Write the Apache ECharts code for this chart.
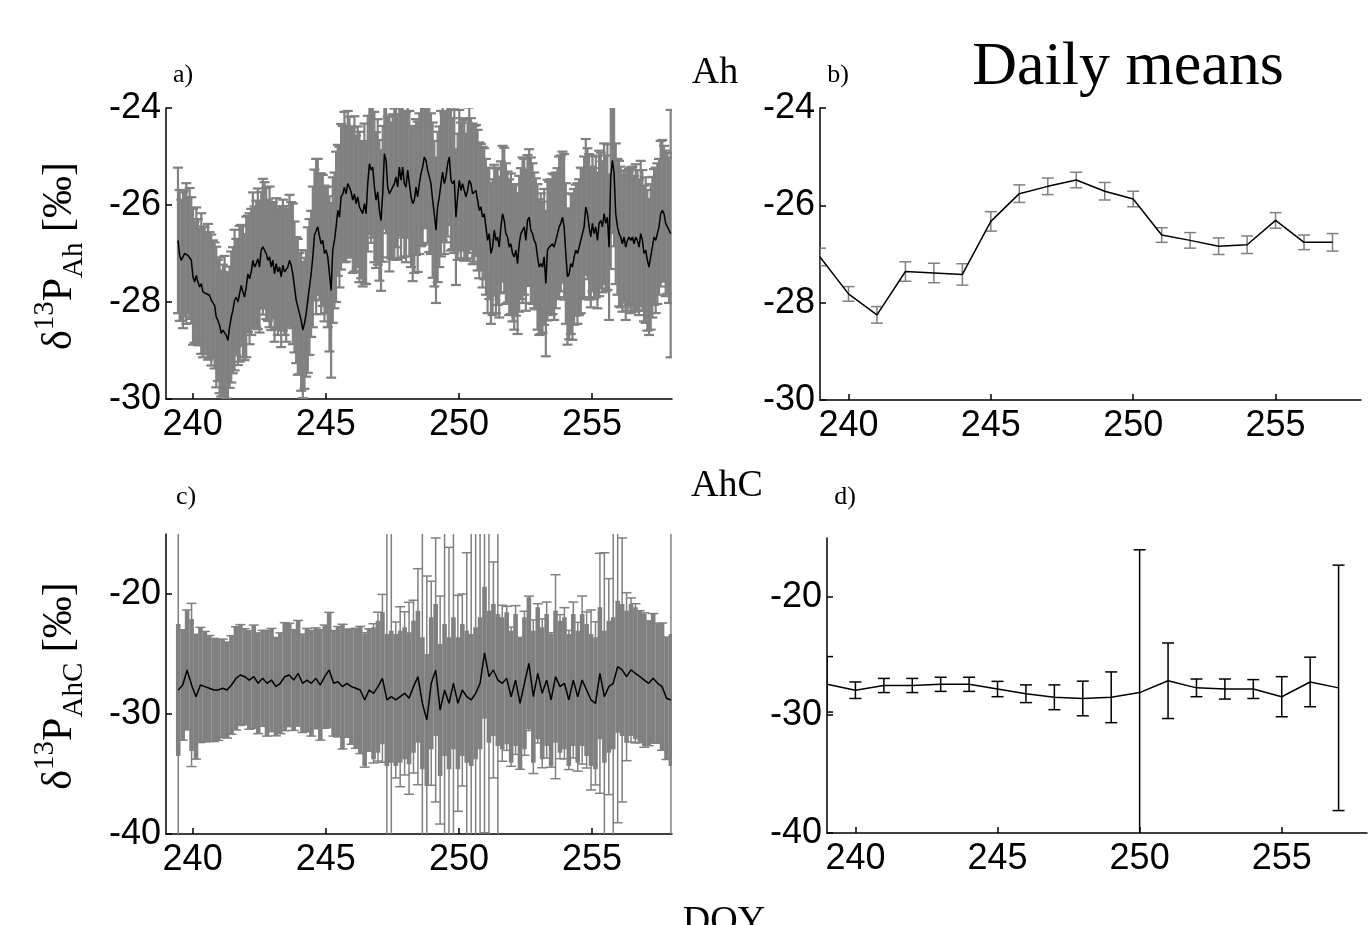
<!DOCTYPE html>
<html><head><meta charset="utf-8">
<script src="https://cdn.jsdelivr.net/npm/echarts@6/dist/echarts.min.js"></script>
<style>html,body{margin:0;padding:0;background:#fff}#c{width:1370px;height:925px}</style>
</head><body><div id="c"></div>
<script>
// ---------- data ----------
const ahStart = 239.45, ahStep = 0.0625;
const ahMean = [
-26.73,-27.04,-27.14,-27.14,-27.00,-27.00,-27.04,-27.00,-27.14,-27.48,
-27.59,-27.45,-27.59,-27.69,-27.62,-27.79,-27.76,-27.83,-27.79,-27.86,
-27.96,-27.93,-28.07,-28.31,-28.38,-28.48,-28.65,-28.58,-28.55,-28.69,
-28.79,-28.52,-28.31,-28.17,-27.96,-27.90,-28.00,-27.83,-27.66,-27.79,
-27.90,-27.69,-27.42,-27.52,-27.38,-27.14,-27.28,-27.21,-27.11,-27.28,
-26.93,-26.86,-26.83,-27.00,-27.14,-27.07,-27.28,-27.14,-27.42,-27.21,
-27.38,-27.28,-27.48,-27.24,-27.38,-27.42,-27.28,-27.14,-27.24,-27.42,
-27.69,-27.96,-28.10,-28.24,-28.38,-28.58,-28.44,-28.24,-27.96,-27.69,
-27.42,-27.07,-26.62,-26.65,-26.45,-26.65,-26.80,-26.73,-27.00,-26.93,
-27.07,-27.42,-27.76,-26.93,-26.73,-26.45,-26.11,-26.25,-25.83,-25.77,
-25.63,-25.77,-25.56,
-25.63,-25.73,-25.90,-25.77,-25.97,-25.83,-26.04,-26.11,-26.18,-25.97,
-26.18,-25.56,-25.15,-25.28,-25.22,-25.63,-25.90,-25.73,-26.11,-26.32,
-25.77,-24.94,-25.08,-25.63,-25.77,-25.70,-25.63,-25.56,-25.42,-25.63,
-25.22,-25.49,-25.22,-25.56,-25.63,-25.28,-25.56,-25.83,-25.97,-25.90,
-25.63,-25.83,-25.56,-25.35,-25.22,-25.01,-25.08,-25.28,-25.42,-25.56,
-25.90,-26.18,-26.52,-26.04,-25.83,-25.56,-25.32,-25.56,-25.42,-25.15,
-25.01,-25.49,-25.56,-25.49,-26.25,-25.83,-25.49,-25.70,-25.56,-25.70,
-25.83,-25.70,-25.49,-25.56,-25.77,-25.77,-25.70,-25.90,-26.11,-26.04,
-26.25,-26.18,-26.45,-26.73,-26.59,-27.00,-26.87,-26.52,-26.73,-26.66,
-26.87,-26.45,-26.18,-26.32,-26.59,-26.66,-26.87,-26.80,-27.00,-27.07,
-26.93,-27.21,-26.80,-26.59,-26.52,-26.45,-26.73,-26.32,-26.25,-26.52,
-26.59,-26.73,-26.80,-27.07,-27.28,-27.21,-27.28,-27.07,-27.62,-26.93,
-26.87,-26.87,-26.80,-26.87,-26.73,-26.59,-26.45,-26.38,-26.25,-26.45,
-27.00,-27.48,-27.42,-27.21,-27.28,-27.07,-26.93,-27.00,-26.87,-26.73,
-26.59,-26.45,-26.04,-26.18,-26.45,-26.66,-26.38,-26.59,-26.45,-26.73,
-26.38,-26.32,-26.45,-26.18,-26.38,-26.25,-26.87,-25.42,-25.08,-25.35,
-26.18,-26.45,-26.59,-26.66,-26.80,-26.66,-26.87,-26.73,-26.66,-26.73,
-26.66,-26.80,-26.66,-26.73,-26.87,-26.59,-26.73,-27.00,-26.93,-27.14,
-27.28,-27.07,-26.87,-26.66,-26.73,-26.59,-26.45,-26.18,-26.11,-26.18,
-26.38,-26.38,-26.52,-26.59
];
const ahErr = [
1.50,1.35,1.25,1.40,1.30,1.45,1.20,1.35,1.30,1.40,
1.25,1.40,1.30,1.20,1.45,1.35,1.30,1.25,1.40,1.30,
1.35,1.20,1.30,1.45,1.25,1.40,1.30,1.35,1.50,1.30,
1.40,1.25,1.35,1.30,1.45,1.20,1.30,1.40,1.25,1.35,
1.30,1.45,1.20,1.35,1.30,1.40,1.25,1.30,1.45,1.35,
1.20,1.40,1.30,1.35,1.25,1.45,1.30,1.20,1.40,1.35,
1.30,1.25,1.45,1.35,1.30,1.40,1.20,1.35,1.30,1.45,
1.35,1.30,1.40,1.25,1.45,1.40,1.35,1.30,1.50,1.40,
1.30,1.45,1.35,1.60,1.40,1.30,1.45,1.35,1.40,1.30,
1.45,1.60,1.80,1.50,1.40,1.55,1.35,1.45,1.50,1.40,
1.55,1.40,1.50,1.45,1.35,1.50,1.60,1.40,1.45,1.55,
1.40,1.50,1.65,1.45,1.40,1.45,1.50,1.45,1.55,1.40,
1.50,1.45,1.45,1.40,1.55,1.50,1.45,1.60,1.40,1.50,
1.55,1.45,1.50,1.40,1.60,1.45,1.50,1.55,1.40,1.50,
1.45,1.60,1.50,1.40,1.55,1.45,1.50,1.60,1.45,1.40,
1.50,1.55,1.45,1.60,1.50,1.50,1.55,1.45,1.50,1.40,
1.45,1.35,1.50,1.40,1.45,1.35,1.50,1.40,1.30,1.45,
1.40,1.35,1.45,1.30,1.40,1.50,1.35,1.45,1.40,1.35,
1.45,1.40,1.30,1.45,1.35,1.40,1.50,1.35,1.45,1.40,
1.35,1.50,1.40,1.45,1.35,1.40,1.50,1.45,1.35,1.40,
1.45,1.40,1.50,1.35,1.45,1.40,1.35,1.50,1.40,1.45,
1.35,1.40,1.50,1.45,1.40,1.35,1.50,1.40,1.45,1.35,
1.40,1.50,1.45,1.35,1.40,1.45,1.50,1.40,1.35,1.45,
1.40,1.35,1.50,1.45,1.40,1.35,1.45,1.50,1.40,1.35,
1.45,1.40,1.50,1.35,1.45,1.40,1.35,1.50,1.45,1.40,
1.35,1.45,1.40,1.50,1.40,1.35,1.45,1.40,1.50,1.50,
1.90,1.50,1.50,1.45,1.40,1.50,1.45,1.40,1.35,1.50,
1.45,1.40,1.50,1.45,1.40,1.50,1.45,1.40,1.50,1.45,
1.40,1.50,1.45,1.40,1.50,1.45,1.40,1.50,1.45,1.40,
1.50,1.45,1.40,1.50,1.45,1.50,2.55
];
const ahcStart = 239.46, ahcStep = 1/6;
const ahcMean = [
-28.00,-27.58,-26.33,-27.58,-28.56,-27.58,-27.72,-27.86,-28.00,-28.00,
-27.86,-28.00,-27.58,-27.03,-26.75,-26.89,-27.17,-26.89,-27.44,-27.03,
-27.44,-27.17,-27.72,-27.44,-26.89,-26.75,-27.17,-26.61,-27.44,-27.17,
-27.44,-27.03,-27.58,-26.89,-26.33,-27.44,-27.31,-27.72,-27.44,-27.72,
-27.86,-28.00,-28.83,-28.00,-28.28,-27.72,-27.03,-28.83,-28.56,-28.83,
-28.56,-28.28,-28.69,-27.72,-26.89,-29.11,-30.50,-27.44,-26.33,-29.67,
-28.00,-29.11,-27.44,-29.11,-28.00,-28.56,-28.83,-28.28,-27.44,-24.90,
-26.89,-26.33,-27.17,-27.44,-27.03,-28.56,-27.17,-29.11,-27.44,-25.78,
-28.56,-26.61,-28.28,-27.17,-28.83,-26.89,-27.72,-27.44,-28.83,-27.17,
-28.56,-27.17,-28.00,-28.83,-29.11,-26.61,-28.56,-27.72,-27.44,-26.06,
-26.33,-26.89,-26.33,-26.61,-26.89,-27.17,-27.44,-27.03,-27.44,-27.72,
-28.69,-28.83
];
const ahcErr = [
20.0,4.6,5.0,6.8,5.2,4.8,4.6,4.4,4.3,4.2,
4.1,4.0,4.1,4.3,4.2,4.0,4.1,4.3,4.2,4.0,
4.4,4.3,4.1,4.2,4.5,4.3,4.2,4.4,4.1,4.3,
4.4,4.2,4.6,4.3,4.8,4.4,4.6,5.2,4.5,4.8,
5.0,5.3,5.6,5.1,5.8,6.2,7.0,15.0,14.0,6.5,
7.5,6.8,8.0,7.2,9.0,15.0,12.0,8.5,11.0,9.5,
15.0,13.0,15.0,9.0,8.0,12.0,18.0,16.0,18.0,15.0,
18.0,9.0,15.0,6.5,6.0,5.8,6.2,5.5,6.0,5.6,
6.4,5.8,6.2,6.5,5.6,8.5,6.0,6.3,5.8,6.5,
6.2,7.0,6.5,7.5,6.8,10.0,12.0,9.0,14.0,13.0,
11.0,7.0,6.0,5.8,5.5,5.6,5.2,5.4,5.0,5.3,
5.1,20.0
];
const dailyDays = [239,240,241,242,243,244,245,246,247,248,249,250,251,252,253,254,255,256,257];
const dailyAhMean = [-27.06,-27.82,-28.25,-27.36,-27.39,-27.42,-26.33,-25.76,-25.61,-25.48,-25.71,-25.87,-26.61,-26.72,-26.84,-26.81,-26.31,-26.76,-26.76];
const dailyAhErr  = [0.18,0.15,0.17,0.20,0.20,0.22,0.20,0.18,0.17,0.16,0.18,0.16,0.15,0.16,0.17,0.18,0.16,0.15,0.18];
const dailyAhCMean = [-27.4,-27.9,-27.5,-27.5,-27.4,-27.4,-27.8,-28.2,-28.5,-28.6,-28.5,-28.1,-27.1,-27.7,-27.8,-27.8,-28.45,-27.2,-27.7];
const dailyAhCErr  = [2.35,0.7,0.6,0.6,0.6,0.6,0.65,0.75,1.05,1.47,2.15,12.1,3.2,0.75,0.85,0.8,1.7,2.1,10.4];
const xTicks = [240,245,250,255];
const yTicksAh = [-30,-28,-26,-24];
const yTicksAhC = [-40,-30,-20];

// ---------- build ----------
const ahData = ahMean.map((v,i)=>[ahStart+i*ahStep, v, ahErr[i]]);
const ahcData = ahcMean.map((v,i)=>[ahcStart+i*ahcStep, v, ahcErr[i]]);
const dAh = dailyDays.map((d,i)=>[d, dailyAhMean[i], dailyAhErr[i]]);
const dAhC = dailyDays.map((d,i)=>[d, dailyAhCMean[i], dailyAhCErr[i]]);

const GRAY = '#808080';
// error bar: thick core up to +-coreLim (dense-band look), thin beyond, caps at ends
function errRender(color, capHalf, lw, coreLw, coreLim){
  return function(params, api){
    const x=api.value(0), m=api.value(1), e=api.value(2);
    const p1=api.coord([x,m+e]), p2=api.coord([x,m-e]);
    const st={stroke:color, lineWidth:lw, fill:null};
    const ch=[
      {type:'line', shape:{x1:p1[0],y1:p1[1],x2:p2[0],y2:p2[1]}, style:st},
      {type:'line', shape:{x1:p1[0]-capHalf,y1:p1[1],x2:p1[0]+capHalf,y2:p1[1]}, style:st},
      {type:'line', shape:{x1:p2[0]-capHalf,y1:p2[1],x2:p2[0]+capHalf,y2:p2[1]}, style:st}
    ];
    if (coreLw) {
      const c = Math.min(e, coreLim);
      const q1=api.coord([x,m+c]), q2=api.coord([x,m-c]);
      ch.push({type:'line', shape:{x1:q1[0],y1:q1[1],x2:q2[0],y2:q2[1]}, style:{stroke:color, lineWidth:coreLw, fill:null}});
    }
    return {type:'group', children:ch};
  };
}
const tickFont = {fontSize:36, fontFamily:'Liberation Sans', color:'#000'};
function mkX(g){
  return {gridIndex:g, type:'value', min:239, max:258,
    axisLine:{show:true, onZero:false, lineStyle:{color:'#000', width:1.5}},
    axisTick:{show:true, inside:true, length:6, customValues:xTicks, lineStyle:{color:'#000', width:1.5}},
    axisLabel:Object.assign({customValues:xTicks, margin:8}, tickFont),
    splitLine:{show:false}};
}
function mkY(g, min, max, ticks){
  return {gridIndex:g, type:'value', min:min, max:max,
    axisLine:{show:true, onZero:false, lineStyle:{color:'#000', width:1.5}},
    axisTick:{show:true, inside:true, length:6, customValues:ticks, lineStyle:{color:'#000', width:1.5}},
    axisLabel:Object.assign({margin:5, customValues:ticks}, tickFont),
    splitLine:{show:false}};
}
const serif = 'Liberation Serif';
function txt(x,y,s,size){
  return {type:'text', x:x, y:y, silent:true,
    style:{text:s, font:size+'px "'+serif+'"', fill:'#000', align:'center', verticalAlign:'middle', textAlign:'center', textVerticalAlign:'middle'}};
}
function ylab(x,y,sub){
  return {type:'text', x:x, y:y, rotation:Math.PI/2, silent:true,
    style:{text:'{m|δ}{sup|13}{m|P}{sub|'+sub+'}{m| [‰]}', align:'center', verticalAlign:'middle',
      textAlign:'center', textVerticalAlign:'middle', fill:'#000',
      rich:{
        m:{fontSize:42, fontFamily:serif, lineHeight:58, fill:'#000', color:'#000'},
        sup:{fontSize:29, fontFamily:serif, lineHeight:26, verticalAlign:'top', fill:'#000', color:'#000'},
        sub:{fontSize:29, fontFamily:serif, lineHeight:26, verticalAlign:'bottom', fill:'#000', color:'#000'}
      }}};
}

const chart = echarts.init(document.getElementById('c'), null, {renderer:'canvas'});
chart.setOption({
  animation:false,
  backgroundColor:'#fff',
  grid:[
    {left:166, top:108, width:506, height:291},
    {left:820, top:108, width:541, height:292},
    {left:166, top:534, width:506, height:300},
    {left:827, top:538, width:540, height:295}
  ],
  xAxis:[mkX(0), mkX(1), mkX(2), mkX(3)],
  yAxis:[mkY(0,-30,-24,yTicksAh), mkY(1,-30,-24,yTicksAh), mkY(2,-40,-15,yTicksAhC), mkY(3,-40,-15,yTicksAhC)],
  series:[
    {type:'custom', xAxisIndex:0, yAxisIndex:0, data:ahData, clip:true, silent:true, renderItem:errRender(GRAY,5,2.2)},
    {type:'line', xAxisIndex:0, yAxisIndex:0, data:ahData.map(d=>[d[0],d[1]]), showSymbol:false, symbol:'none', clip:true, silent:true, lineStyle:{color:'#000', width:1.5}},
    {type:'custom', xAxisIndex:1, yAxisIndex:1, data:dAh, clip:true, silent:true, renderItem:errRender(GRAY,6,1.5)},
    {type:'line', xAxisIndex:1, yAxisIndex:1, data:dAh.map(d=>[d[0],d[1]]), showSymbol:false, symbol:'none', clip:true, silent:true, lineStyle:{color:'#000', width:1.5}},
    {type:'custom', xAxisIndex:2, yAxisIndex:2, data:ahcData, clip:true, silent:true, renderItem:errRender(GRAY,5,1.5,4.6,5.5)},
    {type:'line', xAxisIndex:2, yAxisIndex:2, data:ahcData.map(d=>[d[0],d[1]]), showSymbol:false, symbol:'none', clip:true, silent:true, lineStyle:{color:'#000', width:1.5}},
    {type:'custom', xAxisIndex:3, yAxisIndex:3, data:dAhC, clip:true, silent:true, renderItem:errRender('#000',6,1.5)},
    {type:'line', xAxisIndex:3, yAxisIndex:3, data:dAhC.map(d=>[d[0],d[1]]), showSymbol:false, symbol:'none', clip:true, silent:true, lineStyle:{color:'#000', width:1.5}}
  ],
  graphic:[
    txt(183,75,'a)',26), txt(715,73,'Ah',38), txt(838,75,'b)',26), txt(1128,68,'Daily means',62),
    txt(186,497,'c)',26), txt(727,486,'AhC',38), txt(845,497,'d)',26), txt(724,922,'DOY',38),
    ylab(60,256,'Ah'), ylab(60,686,'AhC')
  ]
});
</script></body></html>
